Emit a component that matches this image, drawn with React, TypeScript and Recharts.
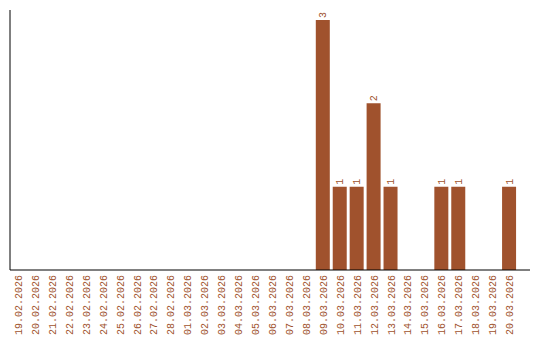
import { BarChart, Bar, XAxis, YAxis, LabelList } from "recharts";

const dates = [
  "19.02.2026", "20.02.2026", "21.02.2026", "22.02.2026", "23.02.2026", "24.02.2026",
  "25.02.2026", "26.02.2026", "27.02.2026", "28.02.2026", "01.03.2026", "02.03.2026",
  "03.03.2026", "04.03.2026", "05.03.2026", "06.03.2026", "07.03.2026", "08.03.2026",
  "09.03.2026", "10.03.2026", "11.03.2026", "12.03.2026", "13.03.2026", "14.03.2026",
  "15.03.2026", "16.03.2026", "17.03.2026", "18.03.2026", "19.03.2026", "20.03.2026",
];
const counts = [0, 0, 0, 0, 0, 0, 0, 0, 0, 0, 0, 0, 0, 0, 0, 0, 0, 0, 3, 1, 1, 2, 1, 0, 0, 1, 1, 0, 0, 1];

const data = dates.map((d, i) => ({ date: d, count: counts[i] }));

const BROWN = "#A0522D";
const FONT = "'Liberation Mono', 'DejaVu Sans Mono', monospace";

const DateTick = ({ x, y, payload }: any) => (
  <text
    transform={`translate(${x},${y - 3}) rotate(-90)`}
    textAnchor="end"
    dy="0.35em"
    fontSize={10}
    fontFamily={FONT}
    fill={BROWN}
  >
    {payload.value}
  </text>
);

const ValueLabel = ({ x, y, width, value }: any) => {
  if (!value) return null;
  return (
    <text
      transform={`translate(${x + width / 2},${y - 2}) rotate(-90)`}
      textAnchor="start"
      dy="0.35em"
      fontSize={10}
      fontFamily={FONT}
      fill={BROWN}
    >
      {value}
    </text>
  );
};

export default function App() {
  return (
    <div style={{ position: "absolute", left: 0, top: 0, background: "#fff" }}>
      <BarChart width={540} height={340} data={data} margin={{ top: 10, right: 10, left: 0, bottom: 0 }}>
        <XAxis
          dataKey="date"
          height={70}
          interval={0}
          tickLine={false}
          tick={<DateTick />}
          axisLine={{ stroke: "#000" }}
          padding={{ left: 0, right: 12 }}
        />
        <YAxis
          width={10}
          domain={[0, 3]}
          tick={false}
          tickLine={false}
          axisLine={{ stroke: "#000" }}
          padding={{ top: 10 }}
        />
        <Bar dataKey="count" fill={BROWN} barSize={14} isAnimationActive={false}>
          <LabelList dataKey="count" content={<ValueLabel />} />
        </Bar>
      </BarChart>
    </div>
  );
}
